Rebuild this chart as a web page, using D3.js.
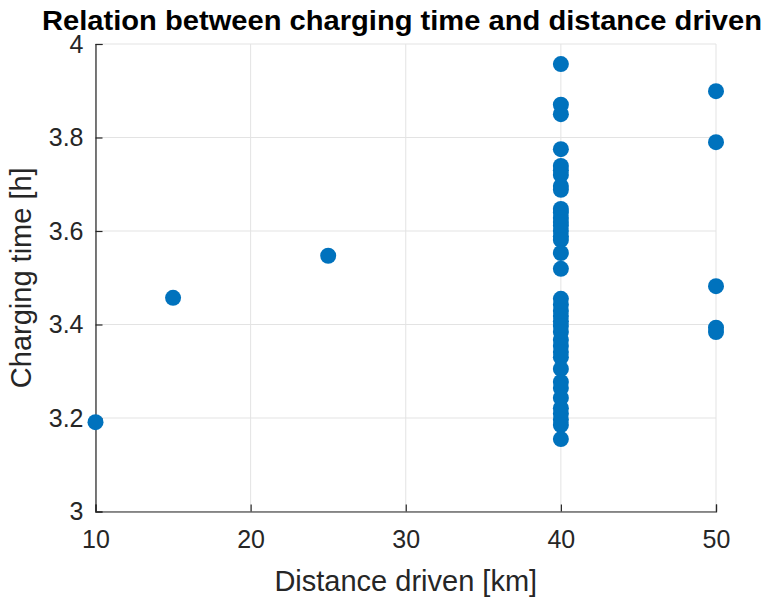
<!DOCTYPE html>
<html>
<head>
<meta charset="utf-8">
<script src="https://cdn.jsdelivr.net/npm/d3@7"></script>
<style>
  html, body { margin: 0; padding: 0; background: #fff; }
  svg { display: block; font-family: "Liberation Sans", Arial, Helvetica, sans-serif; }
</style>
</head>
<body>
<svg id="chart" width="772" height="598"></svg>
<script>
const chartTitle = "Relation between charging time and distance driven";
const xLabel = "Distance driven [km]";
const yLabel = "Charging time [h]";
const xTicks = [10, 20, 30, 40, 50];
const yTicks = [3, 3.2, 3.4, 3.6, 3.8, 4];
const xDomain = [10, 50];
const yDomain = [3, 4];

const distance = [
  10, 15, 25,
  40, 40, 40, 40, 40, 40, 40, 40, 40, 40, 40, 40, 40, 40, 40, 40, 40, 40, 40,
  40, 40, 40, 40, 40, 40, 40, 40, 40, 40, 40, 40, 40, 40, 40, 40, 40, 40, 40, 40,
  50, 50, 50, 50, 50
];
const chargingTime = [
  3.191, 3.457, 3.547,
  3.957, 3.870, 3.850, 3.775, 3.739, 3.730, 3.720, 3.696, 3.688, 3.647, 3.639, 3.628,
  3.619, 3.611, 3.600, 3.589, 3.581, 3.553, 3.519,
  3.455, 3.442, 3.429, 3.418, 3.407, 3.397, 3.384, 3.367, 3.354, 3.341, 3.330, 3.305,
  3.277, 3.264, 3.243, 3.221, 3.209, 3.196, 3.185, 3.155,
  3.899, 3.790, 3.482, 3.393, 3.384
];

const svg = d3.select("#chart");
const m = { left: 95.5, right: 716, top: 44, bottom: 511.5 };
const x = d3.scaleLinear().domain(xDomain).range([m.left, m.right]);
const y = d3.scaleLinear().domain(yDomain).range([m.bottom, m.top]);

const grid = svg.append("g");
grid.selectAll(".gx").data(xTicks).join("line")
  .attr("x1", d => x(d)).attr("x2", d => x(d))
  .attr("y1", m.top).attr("y2", m.bottom)
  .attr("stroke", "#e3e3e3").attr("stroke-width", 1);
grid.selectAll(".gy").data(yTicks).join("line")
  .attr("y1", d => y(d)).attr("y2", d => y(d))
  .attr("x1", m.left).attr("x2", m.right)
  .attr("stroke", "#e3e3e3").attr("stroke-width", 1);

const axisColor = "#262626";
const xAxis = svg.append("g").attr("transform", `translate(0,${m.bottom})`)
  .call(d3.axisBottom(x).tickValues(xTicks).tickSize(-7).tickPadding(19).tickFormat(d3.format("d")));
const yAxis = svg.append("g").attr("transform", `translate(${m.left},0)`)
  .call(d3.axisLeft(y).tickValues(yTicks).tickSize(-7).tickPadding(12).tickFormat(d => d3.format("")(d)));
[xAxis, yAxis].forEach(a => {
  a.select(".domain").attr("stroke", axisColor).attr("stroke-width", 1.2);
  a.selectAll(".tick line").attr("stroke", axisColor).attr("stroke-width", 1.2);
  a.selectAll(".tick text").attr("fill", axisColor)
    .style("font-size", "25px").style("font-family", "'Liberation Sans', Arial, sans-serif");
});
xAxis.selectAll(".tick text").attr("dy", "0.71em");

svg.append("g").selectAll("circle").data(distance).join("circle")
  .attr("cx", (d, i) => x(d))
  .attr("cy", (d, i) => y(chargingTime[i]))
  .attr("r", 8)
  .attr("fill", "#0072BD");

svg.append("text")
  .attr("x", 402).attr("y", 30)
  .attr("text-anchor", "middle")
  .attr("font-weight", "bold")
  .attr("font-size", 27)
  .attr("textLength", 720).attr("lengthAdjust", "spacingAndGlyphs")
  .attr("fill", "#000")
  .text(chartTitle);

svg.append("text")
  .attr("x", (m.left + m.right) / 2).attr("y", 591)
  .attr("text-anchor", "middle")
  .attr("font-size", 29)
  .attr("fill", axisColor)
  .text(xLabel);

svg.append("text")
  .attr("transform", `translate(31,${(m.top + m.bottom) / 2}) rotate(-90)`)
  .attr("text-anchor", "middle")
  .attr("font-size", 29)
  .attr("fill", axisColor)
  .text(yLabel);
</script>
</body>
</html>
